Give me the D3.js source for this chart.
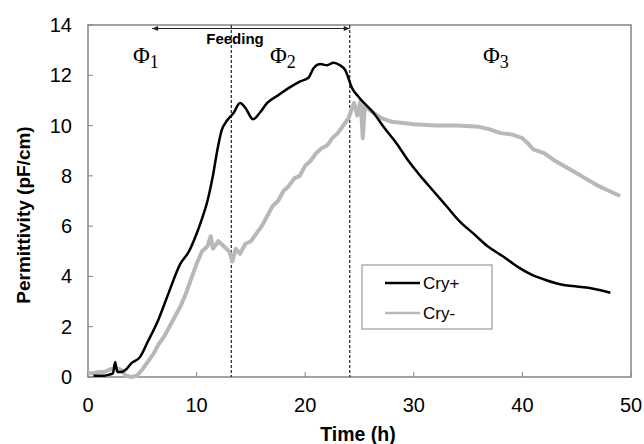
<!DOCTYPE html>
<meta charset="utf-8">
<html>
<body style="margin:0;background:#fff">
<div id="chart"></div>
<script src="https://cdn.jsdelivr.net/npm/d3@7"></script>
<script>
// Cry+ (black) : time (h), permittivity (pF/cm)
var cryPlusT = [0.5,1,1.5,2,2.3,2.5,2.7,3,3.5,4,4.8,5.5,6.5,7.3,8.5,9.3,10,10.5,11,11.5,11.9,12.3,12.8,13.4,14,14.5,15.2,15.8,16.5,17.5,18.5,19.5,20.3,20.8,21.4,22,22.6,23.2,23.7,24.3,25,26.3,27.3,28.4,29.5,30.6,31.8,33,34.2,35.5,36.8,38.2,39.5,40.7,42.2,43.8,45,46.2,47.2,48.1];
var cryPlusV = [0.05,0.05,0.05,0.1,0.15,0.6,0.2,0.2,0.3,0.55,0.8,1.4,2.3,3.2,4.5,5.0,5.7,6.3,7.0,8.0,9.0,9.8,10.2,10.5,10.9,10.7,10.25,10.5,10.9,11.2,11.5,11.75,11.9,12.3,12.45,12.4,12.5,12.4,12.2,11.5,11.1,10.5,9.9,9.3,8.6,8.0,7.4,6.8,6.2,5.7,5.2,4.8,4.4,4.1,3.85,3.66,3.6,3.54,3.45,3.35];

// Cry- (grey)
var cryMinusT = [0,0.5,1,1.5,2,2.5,3,3.5,4,4.5,5,5.5,6,6.5,7,7.5,8,8.5,9,9.5,10,10.5,11,11.3,11.5,12,12.5,13,13.3,13.6,14,14.5,15,15.5,16,16.5,17,17.5,18,18.5,19,19.5,20,20.5,21,21.5,22,22.5,23,23.5,24,24.5,24.8,25.1,25.3,25.5,26,27,28,30,32,34,36,37,38,39,40,40.5,41,42,43,44,45,46,47,48,49];
var cryMinusV = [0.15,0.15,0.2,0.2,0.3,0.35,0.3,0.05,0.0,0.05,0.3,0.6,0.9,1.3,1.6,2.0,2.4,2.8,3.3,3.9,4.5,5.0,5.2,5.6,5.1,5.4,5.2,5.0,4.6,5.1,4.9,5.3,5.4,5.7,6.0,6.4,6.8,7.0,7.4,7.6,7.9,8.0,8.4,8.6,8.9,9.1,9.2,9.5,9.7,10.0,10.3,10.9,10.4,11.0,9.5,10.8,10.6,10.3,10.15,10.05,10.0,10.0,9.95,9.85,9.7,9.65,9.5,9.3,9.05,8.9,8.6,8.35,8.1,7.85,7.6,7.4,7.2];

var xTicks = [0,10,20,30,40,50];
var yTicks = [0,2,4,6,8,10,12,14];
var phaseLines = [13.2, 24.1];
var feedingFrom = 5.9, feedingTo = 24.1;

var W = 644, H = 444;
var svg = d3.select("#chart").append("svg").attr("width", W).attr("height", H);

var x = d3.scaleLinear().domain([0, 50]).range([88, 631]);
var y = d3.scaleLinear().domain([0, 14]).range([377, 25]);

var axisCol = "#858585";
var sans = "Liberation Sans, Arial, sans-serif";

// frame
svg.append("rect")
  .attr("x", x(0)).attr("y", y(14))
  .attr("width", x(50) - x(0)).attr("height", y(0) - y(14))
  .attr("fill", "none").attr("stroke", axisCol).attr("stroke-width", 1.5);

// ticks (inside)
svg.selectAll(".xt").data(xTicks).enter().append("line")
  .attr("x1", function (d) { return x(d); }).attr("x2", function (d) { return x(d); })
  .attr("y1", y(0)).attr("y2", y(0) - 5)
  .attr("stroke", axisCol).attr("stroke-width", 1);
svg.selectAll(".yt").data(yTicks).enter().append("line")
  .attr("x1", x(0)).attr("x2", x(0) + 5)
  .attr("y1", function (d) { return y(d); }).attr("y2", function (d) { return y(d); })
  .attr("stroke", axisCol).attr("stroke-width", 1);

// tick labels
svg.selectAll(".xl").data(xTicks).enter().append("text")
  .attr("x", function (d) { return x(d); }).attr("y", 412)
  .attr("text-anchor", "middle")
  .style("font-family", sans).style("font-size", "20px")
  .text(function (d) { return d; });
svg.selectAll(".yl").data(yTicks).enter().append("text")
  .attr("x", 72).attr("y", function (d) { return y(d) + 7; })
  .attr("text-anchor", "end")
  .style("font-family", sans).style("font-size", "20px")
  .text(function (d) { return d; });

// axis titles
svg.append("text")
  .attr("x", 358).attr("y", 441).attr("text-anchor", "middle")
  .style("font-family", sans).style("font-size", "19.5px").style("font-weight", "bold")
  .text("Time (h)");
svg.append("text")
  .attr("transform", "translate(30," + 215 + ") rotate(-90)")
  .attr("text-anchor", "middle")
  .style("font-family", sans).style("font-size", "19px").style("font-weight", "bold")
  .text("Permittivity (pF/cm)");

// phase separators
svg.selectAll(".ph").data(phaseLines).enter().append("line")
  .attr("x1", function (d) { return x(d); }).attr("x2", function (d) { return x(d); })
  .attr("y1", y(14)).attr("y2", y(0))
  .attr("stroke", "#333").attr("stroke-width", 1.3).attr("stroke-dasharray", "3,2");

// feeding arrow
var defs = svg.append("defs");
defs.append("marker").attr("id", "ah").attr("viewBox", "0 0 10 10")
  .attr("refX", 10).attr("refY", 5).attr("markerWidth", 8).attr("markerHeight", 6)
  .attr("orient", "auto-start-reverse")
  .append("path").attr("d", "M0,1 L10,5 L0,9 Z").attr("fill", "#222");
svg.append("line")
  .attr("x1", x(feedingFrom)).attr("x2", x(feedingTo))
  .attr("y1", 28.5).attr("y2", 28.5)
  .attr("stroke", "#222").attr("stroke-width", 1)
  .attr("marker-start", "url(#ah)").attr("marker-end", "url(#ah)");
svg.append("text")
  .attr("x", 235).attr("y", 44).attr("text-anchor", "middle")
  .style("font-family", sans).style("font-size", "15px").style("font-weight", "bold")
  .text("Feeding");

// phase labels
var phases = [["1", 133], ["2", 270], ["3", 483]];
phases.forEach(function (p) {
  var t = svg.append("text")
    .attr("x", p[1]).attr("y", 63)
    .style("font-family", "Liberation Serif, Times New Roman, serif").style("font-size", "23px");
  t.append("tspan").text("\u03A6");
  t.append("tspan").attr("dy", 5).style("font-size", "18px").text(p[0]);
});

// series
var line = d3.line()
  .x(function (d) { return x(d[0]); })
  .y(function (d) { return y(d[1]); });

svg.append("path")
  .datum(d3.zip(cryMinusT, cryMinusV))
  .attr("d", line)
  .attr("fill", "none").attr("stroke", "#b8b8b8").attr("stroke-width", 4)
  .attr("stroke-linejoin", "round");
svg.append("path")
  .datum(d3.zip(cryPlusT, cryPlusV))
  .attr("d", line.curve(d3.curveMonotoneX))
  .attr("fill", "none").attr("stroke", "#000").attr("stroke-width", 2.5)
  .attr("stroke-linejoin", "round");

// legend
var lg = svg.append("g");
lg.append("rect").attr("x", 362).attr("y", 265).attr("width", 130).attr("height", 64)
  .attr("fill", "#fff").attr("stroke", axisCol).attr("stroke-width", 1);
var items = [["Cry+", "#000", 2.5], ["Cry-", "#b8b8b8", 2.5]];
items.forEach(function (it, i) {
  var cy = 283 + i * 30;
  lg.append("line").attr("x1", 385).attr("x2", 420).attr("y1", cy).attr("y2", cy)
    .attr("stroke", it[1]).attr("stroke-width", it[2]);
  lg.append("text").attr("x", 423).attr("y", cy + 6)
    .style("font-family", sans).style("font-size", "17px")
    .text(it[0]);
});
</script>
</body>
</html>
